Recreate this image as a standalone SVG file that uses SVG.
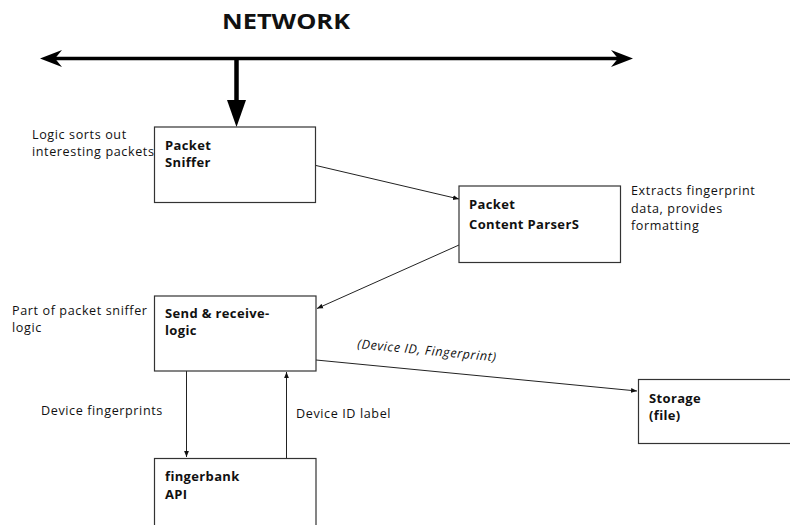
<svg xmlns="http://www.w3.org/2000/svg" width="790" height="525" viewBox="0 0 790 525">
<style>
text{font-family:"Open Sans","Noto Sans","DejaVu Sans",sans-serif;fill:#111}
.t{font-size:12.6px;letter-spacing:0.6px}
.b{font-size:13px;font-weight:bold;letter-spacing:0.35px}
.box{fill:#fff;stroke:#333;stroke-width:1.2}
.ln{stroke:#222;stroke-width:1;fill:none}
</style>
<defs>
<marker id="ah" viewBox="0 0 10 10" refX="10" refY="5" markerWidth="6" markerHeight="6" markerUnits="userSpaceOnUse" orient="auto">
<path d="M0,1 L10,5 L0,9 Z" fill="#111"/>
</marker>
</defs>
<rect width="790" height="525" fill="#fff"/>
<text x="222" y="29" style="font-size:22px;font-weight:bold" textLength="128" lengthAdjust="spacingAndGlyphs">NETWORK</text>
<g id="network">
<line x1="50" y1="58.5" x2="623" y2="58.5" stroke="#000" stroke-width="3.5"/>
<path d="M40,58.5 L62,50 L55,58.5 L62,67 Z" fill="#000"/>
<path d="M633,58.5 L611,50 L618,58.5 L611,67 Z" fill="#000"/>
</g>
<g id="connectors">
<line x1="236.5" y1="58" x2="236.5" y2="102" stroke="#000" stroke-width="4.5"/>
<path d="M227,100 L246,100 L236.5,127 Z" fill="#000"/>
<line class="ln" x1="316" y1="165.5" x2="459" y2="199" marker-end="url(#ah)"/>
<line class="ln" x1="459" y1="245" x2="317" y2="308.5" marker-end="url(#ah)"/>
<line class="ln" x1="186.5" y1="371" x2="186.5" y2="457" marker-end="url(#ah)"/>
<line class="ln" x1="286.5" y1="458" x2="286.5" y2="372" marker-end="url(#ah)"/>
<line class="ln" x1="316" y1="360" x2="637" y2="391" marker-end="url(#ah)"/>
<text class="t" transform="translate(357,348) rotate(5.5)" style="font-style:italic">(Device ID, Fingerprint)</text>
<text class="t" x="41" y="415">Device fingerprints</text>
<text class="t" x="296" y="418">Device ID label</text>
</g>
<g id="sniffer">
<rect class="box" x="154.5" y="127" width="161" height="75.5"/>
<text class="b" x="165" y="150">Packet</text>
<text class="b" x="165" y="167">Sniffer</text>
<text class="t" x="32" y="139">Logic sorts out</text>
<text class="t" x="32" y="156">interesting packets</text>
</g>
<g id="parsers">
<rect class="box" x="459" y="186" width="161.5" height="76.5"/>
<text class="b" x="469" y="209">Packet</text>
<text class="b" x="469" y="229">Content ParserS</text>
<text class="t" x="631" y="195">Extracts fingerprint</text>
<text class="t" x="631" y="212.5">data, provides</text>
<text class="t" x="631" y="230">formatting</text>
</g>
<g id="sendreceive">
<rect class="box" x="154.5" y="296" width="161.5" height="75"/>
<text class="b" x="165" y="318">Send &amp; receive-</text>
<text class="b" x="165" y="335">logic</text>
<text class="t" x="12" y="315">Part of packet sniffer</text>
<text class="t" x="12" y="332">logic</text>
</g>
<g id="fingerbank">
<rect class="box" x="154.5" y="458.5" width="161.5" height="80"/>
<text class="b" x="165" y="481">fingerbank</text>
<text class="b" x="165" y="499">API</text>
</g>
<g id="storage">
<rect class="box" x="638.5" y="379.5" width="170" height="64"/>
<text class="b" x="649" y="403">Storage</text>
<text class="b" x="649" y="420">(file)</text>
</g>
</svg>
